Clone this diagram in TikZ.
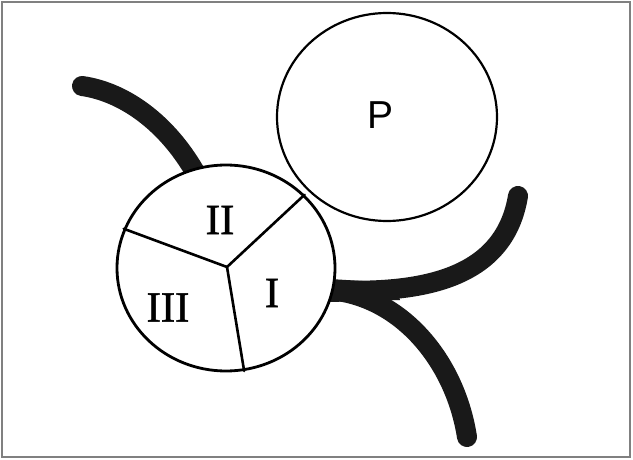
\documentclass[tikz,border=0pt]{standalone}
\usepackage{fontspec}
\setmainfont{Liberation Serif}
\newfontfamily\numfont[FakeBold=1.2]{Liberation Serif}
\newfontfamily\psans{Liberation Sans}
\usetikzlibrary{shapes.geometric}
\begin{document}
\begin{tikzpicture}[x=1pt,y=-1pt,
  thickarm/.style={line width=20pt,line cap=round,color=black!90},
  disc/.style={ellipse,draw=black,fill=white,inner sep=0pt},
  spoke/.style={line width=2.6pt,line cap=round,line join=round},
  numeral/.style={font=\numfont\fontsize{43}{43}\selectfont,inner sep=0pt}]
\useasboundingbox (0,0) rectangle (633,460);
\node[draw=black!50,line width=1.2pt,minimum width=628pt,minimum height=455pt,inner sep=0pt] (frame) at (316,229.5) {};
% thick arms
\coordinate (ulend) at (82,86);
\coordinate (urend) at (518,196);
\coordinate (lrend) at (467,437);
\coordinate (rstart) at (328,290);
\coordinate (ulin) at (202,185);
\draw[thickarm] (ulend) .. controls (125,92) and (172,125) .. (ulin);
\draw[thickarm] (rstart) .. controls (430,295) and (505,275) .. (urend);
\draw[thickarm] (rstart) .. controls (400,295) and (455,360) .. (lrend);
\fill[black!90] (330,279) -- (395,283) -- (400,300) -- (330,302) -- cycle;
% P disc
\node[disc,line width=2.2pt,minimum width=220pt,minimum height=208pt] (P) at (387,117) {};
\node[font=\psans\fontsize{39}{39}\selectfont,inner sep=0pt] (Plabel) at (381,115.5) {P};
% wheel
\node[disc,line width=2.8pt,minimum width=218pt,minimum height=206pt] (wheel) at (226,268) {};
\coordinate (hub) at (227,267);
\draw[spoke] (hub) -- (wheel.43);
\draw[spoke] (hub) -- (wheel.159);
\draw[spoke] (hub) -- (wheel.280);
\node[numeral] (II) at (220,220) {II};
\node[numeral] (III) at (168,307.5) {III};
\node[numeral] (I) at (272,293) {I};
\end{tikzpicture}
\end{document}
